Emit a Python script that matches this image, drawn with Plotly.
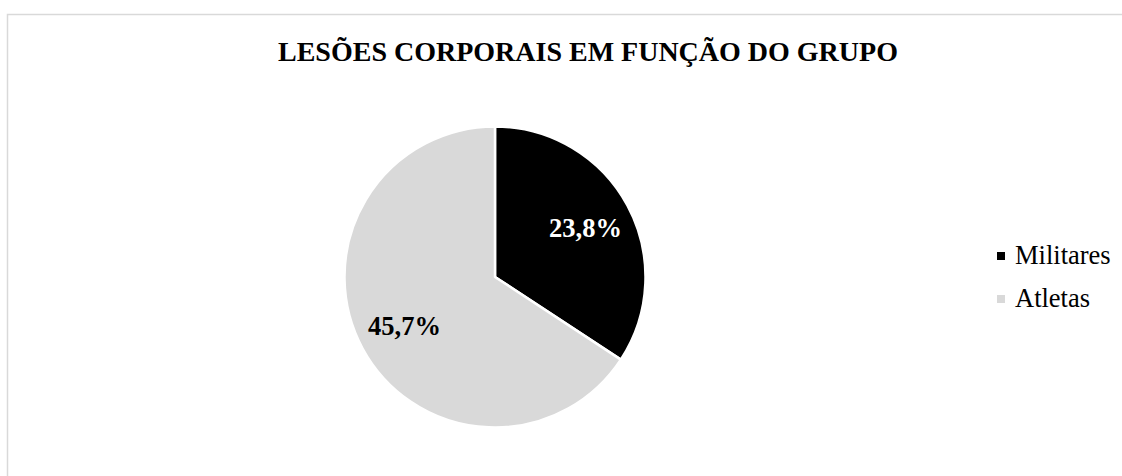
import math
import plotly.graph_objects as go

categories = ["Militares", "Atletas"]
values = [23.8, 45.7]
colors = ["#000000", "#D9D9D9"]
label_colors = ["#FFFFFF", "#000000"]
title_text = "LESÕES CORPORAIS EM FUNÇÃO DO GRUPO"

W, H = 1122, 476
cx, cy, R = 495, 277, 150.5
label_r = 0.68

labels_txt = [f"{v:.1f}".replace(".", ",") + "%" for v in values]

fig = go.Figure()
fig.add_trace(go.Pie(
    labels=categories,
    values=values,
    sort=False,
    direction="clockwise",
    rotation=0,
    marker=dict(colors=colors, line=dict(color="#FFFFFF", width=2.5)),
    textinfo="none",
    domain=dict(x=[(cx - R) / W, (cx + R) / W], y=[1 - (cy + R) / H, 1 - (cy - R) / H]),
    hoverinfo="label+value",
    showlegend=False,
))

annotations = []
total = sum(values)
cum = 0.0
for v, txt, col in zip(values, labels_txt, label_colors):
    mid = (cum + v / 2) / total * 2 * math.pi
    cum += v
    px = cx + label_r * R * math.sin(mid)
    py = cy - label_r * R * math.cos(mid)
    annotations.append(dict(
        x=px / W, y=1 - py / H, xref="paper", yref="paper",
        text="<b>" + txt + "</b>", showarrow=False,
        xanchor="center", yanchor="middle",
        font=dict(family="Liberation Serif", size=26.5, color=col),
    ))

# legend (manual, to match the reference's compact layout)
shapes = [dict(type="rect", xref="paper", yref="paper",
               x0=7.5 / W, x1=1.05, y0=-0.05, y1=1 - 14.5 / H,
               line=dict(color="#D9D9D9", width=1.5), fillcolor="rgba(0,0,0,0)")]
leg_x, leg_y0, leg_dy, sq = 1001, 256, 43, 8
for i, (name, col) in enumerate(zip(categories, colors)):
    yy = leg_y0 + i * leg_dy
    shapes.append(dict(type="rect", xref="paper", yref="paper",
                       x0=(leg_x - sq / 2) / W, x1=(leg_x + sq / 2) / W,
                       y0=1 - (yy + sq / 2) / H, y1=1 - (yy - sq / 2) / H,
                       line=dict(width=0), fillcolor=col))
    annotations.append(dict(
        x=(leg_x + 12) / W, y=1 - (yy - 1) / H, xref="paper", yref="paper",
        text=name, showarrow=False, xanchor="left", yanchor="middle",
        font=dict(family="Liberation Serif", size=26.5, color="#000000"),
    ))

fig.update_layout(
    width=W, height=H,
    margin=dict(l=0, r=0, t=0, b=0),
    paper_bgcolor="#FFFFFF",
    plot_bgcolor="#FFFFFF",
    font=dict(family="Liberation Serif", color="#000000"),
    title=dict(text="<b>" + title_text + "</b>", x=278 / W, xanchor="left",
               y=1 - 51 / H, yanchor="middle",
               font=dict(family="Liberation Serif", size=28, color="#000000")),
    showlegend=False,
    annotations=annotations,
    shapes=shapes,
)

fig.write_html("out.html")
